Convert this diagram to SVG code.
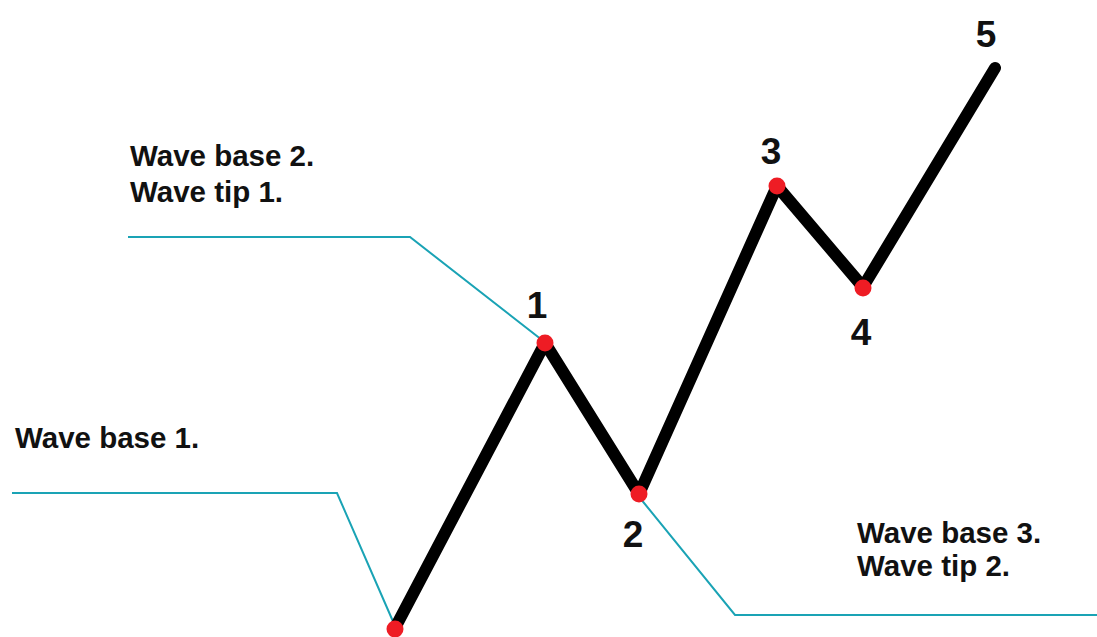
<svg xmlns="http://www.w3.org/2000/svg" width="1097" height="637" viewBox="0 0 1097 637">
<style>
.lbl{font-family:"Liberation Sans",Arial,sans-serif;font-weight:bold;font-size:29.5px;fill:#111}
.num{font-family:"Liberation Sans",Arial,sans-serif;font-weight:bold;font-size:37px;fill:#111;text-anchor:middle}
.guide{fill:none;stroke:#1aa3b5;stroke-width:2}
.wave{fill:none;stroke:#000;stroke-width:12;stroke-linejoin:round;stroke-linecap:round}
.pt{fill:#ee1c24}
</style>
<rect width="1097" height="637" fill="#fff"/>
<g id="guides">
<polyline class="guide" points="12,493 337,493 395,626"/>
<polyline class="guide" points="128,237 410,237 542,340"/>
<polyline class="guide" points="640,498 735,615 1097,615"/>
</g>
<g id="connectors">
<polyline class="wave" points="395,628 545,343 639,494 777,186 863,287 995,68"/>
</g>
<g id="p0"><circle class="pt" cx="395" cy="629" r="8.5"/></g>
<g id="p1"><circle class="pt" cx="545" cy="343" r="8.5"/><text class="num" x="537" y="318">1</text></g>
<g id="p2"><circle class="pt" cx="639" cy="494" r="8.5"/><text class="num" x="633" y="547">2</text></g>
<g id="p3"><circle class="pt" cx="777" cy="186" r="8.5"/><text class="num" x="771" y="164">3</text></g>
<g id="p4"><circle class="pt" cx="863" cy="288" r="8.5"/><text class="num" x="861" y="345">4</text></g>
<g id="p5"><text class="num" x="986" y="47">5</text></g>
<g id="label-base1"><text class="lbl" x="15" y="448">Wave base 1.</text></g>
<g id="label-base2"><text class="lbl" x="130" y="166">Wave base 2.</text><text class="lbl" x="130" y="202">Wave tip 1.</text></g>
<g id="label-base3"><text class="lbl" x="857" y="543">Wave base 3.</text><text class="lbl" x="857" y="576">Wave tip 2.</text></g>
</svg>
